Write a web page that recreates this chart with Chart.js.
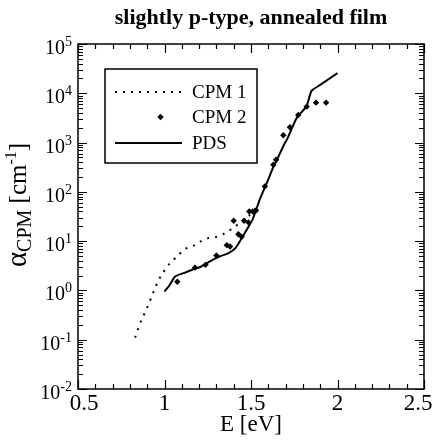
<!DOCTYPE html>
<html><head><meta charset="utf-8">
<script src="https://cdn.jsdelivr.net/npm/chart.js@4"></script>
<style>html,body{margin:0;padding:0;background:#fff}canvas{display:block}</style>
</head><body>
<canvas id="c" width="440" height="442"></canvas>
<script>
const titleText = "slightly p-type, annealed film";
const xTicks = [0.5, 1, 1.5, 2, 2.5];
const xTickLabels = ["0.5", "1", "1.5", "2", "2.5"];
const yExponents = [-2, -1, 0, 1, 2, 3, 4, 5];
const yExpLabels = ["-2", "-1", "0", "1", "2", "3", "4", "5"];

const cpm1E = [0.83, 0.868, 0.887, 0.906, 0.926, 0.945, 0.964, 0.99, 1.028, 1.074, 1.118, 1.163, 1.205, 1.253, 1.302, 1.35, 1.394, 1.446, 1.49, 1.53];
const cpm1A = [0.11, 0.26, 0.355, 0.51, 0.75, 1.1, 1.58, 2.24, 3.47, 4.9, 6.9, 7.9, 9.8, 11.5, 12.3, 14.5, 18.2, 25, 33, 48];

const cpm2E = [1.074, 1.176, 1.237, 1.30, 1.36, 1.379, 1.40, 1.427, 1.446, 1.46, 1.485, 1.49, 1.51, 1.529, 1.58, 1.629, 1.645, 1.687, 1.725, 1.773, 1.822, 1.876, 1.934];
const cpm2A = [1.5, 2.9, 3.3, 5.1, 8.3, 7.8, 26, 13.8, 12.3, 26, 24, 40, 40, 42, 129, 355, 447, 1410, 2040, 3630, 5370, 6460, 6460];

const pdsE = [1.00, 1.03, 1.06, 1.11, 1.16, 1.21, 1.26, 1.32, 1.37, 1.41, 1.44, 1.475, 1.51, 1.55, 1.59, 1.63, 1.65, 1.69, 1.71, 1.745, 1.77, 1.82, 1.85, 1.90, 2.00];
const pdsA = [0.95, 1.29, 1.9, 2.24, 2.63, 3.02, 3.85, 4.9, 5.7, 7.2, 10.5, 17, 28, 69, 148, 324, 447, 891, 1200, 2290, 3390, 5370, 11200, 14800, 25700];

const zip = (xs, ys) => xs.map((x, i) => ({x: x, y: ys[i]}));
const SERIF = '"Liberation Serif", "DejaVu Serif", serif';

const decor = {
  id: 'decor',
  afterDraw(chart) {
    const ctx = chart.ctx;
    const ca = chart.chartArea;
    const xs = chart.scales.x, ys = chart.scales.y;
    ctx.save();
    ctx.strokeStyle = '#000';
    ctx.fillStyle = '#000';
    // frame
    ctx.lineWidth = 1.5;
    ctx.strokeRect(ca.left, ca.top, ca.right - ca.left, ca.bottom - ca.top);
    // x ticks
    ctx.lineWidth = 1.2;
    for (let k = 5; k <= 25; k++) {
      const v = k / 10;
      const px = Math.round(xs.getPixelForValue(v)) + 0.5;
      const len = (k % 5 === 0) ? 9 : 5;
      ctx.beginPath();
      ctx.moveTo(px, ca.bottom); ctx.lineTo(px, ca.bottom - len);
      ctx.moveTo(px, ca.top); ctx.lineTo(px, ca.top + len);
      ctx.stroke();
    }
    // y ticks
    for (let e = -2; e <= 5; e++) {
      for (let m = 1; m <= 9; m++) {
        const v = m * Math.pow(10, e);
        const py = Math.round(ys.getPixelForValue(v)) + 0.5;
        const len = (m === 1) ? 9 : 5;
        ctx.beginPath();
        ctx.moveTo(ca.left, py); ctx.lineTo(ca.left + len, py);
        ctx.moveTo(ca.right, py); ctx.lineTo(ca.right - len, py);
        ctx.stroke();
        if (e === 5) break;
      }
    }
    // x tick labels
    ctx.font = '23px ' + SERIF;
    ctx.textAlign = 'center';
    ctx.textBaseline = 'top';
    xTicks.forEach((v, i) => {
      let px = xs.getPixelForValue(v);
      if (i === 0) px += 6;
      if (i === xTicks.length - 1) px -= 6;
      ctx.fillText(xTickLabels[i], px, ca.bottom + 3);
    });
    // y tick labels
    yExponents.forEach((e, i) => {
      const py = ys.getPixelForValue(Math.pow(10, e));
      ctx.font = '20px ' + SERIF;
      const w10 = ctx.measureText('10').width;
      ctx.font = '14px ' + SERIF;
      const wE = ctx.measureText(yExpLabels[i]).width;
      const x0 = 72 - w10 - wE;
      ctx.textAlign = 'left';
      ctx.textBaseline = 'alphabetic';
      ctx.font = '20px ' + SERIF;
      ctx.fillText('10', x0, py + 10);
      ctx.font = '14px ' + SERIF;
      ctx.fillText(yExpLabels[i], x0 + w10, py + 2);
    });
    // title
    ctx.font = 'bold 22px ' + SERIF;
    ctx.textAlign = 'center';
    ctx.textBaseline = 'middle';
    ctx.fillText(titleText, (ca.left + ca.right) / 2, 18);
    // x title
    ctx.font = '23px ' + SERIF;
    ctx.fillText('E [eV]', (ca.left + ca.right) / 2, 425);
    // y title rotated
    ctx.save();
    ctx.translate(26, 205);
    ctx.rotate(-Math.PI / 2);
    const parts = [
      {t: 'α', f: '29px ' + SERIF, dy: 0},
      {t: 'CPM', f: '20px ' + SERIF, dy: 5},
      {t: ' [cm', f: '25px ' + SERIF, dy: 0},
      {t: '-1', f: '16px ' + SERIF, dy: -10},
      {t: ']', f: '25px ' + SERIF, dy: 0}
    ];
    let tw = 0;
    parts.forEach(p => { ctx.font = p.f; p.w = ctx.measureText(p.t).width; tw += p.w; });
    let cx = -tw / 2;
    ctx.textAlign = 'left';
    ctx.textBaseline = 'alphabetic';
    parts.forEach(p => { ctx.font = p.f; ctx.fillText(p.t, cx, 0 + p.dy); cx += p.w; });
    ctx.restore();
    // legend box
    const lx = ca.left + 27, ly = ca.top + 25, lw = 152, lh = 94;
    ctx.lineWidth = 1.5;
    ctx.strokeRect(lx, ly, lw, lh);
    const rows = [ly + 23, ly + 48, ly + 74];
    const ls = lx + 10, le = lx + 77, tx = lx + 87;
    ctx.save();
    ctx.lineWidth = 2;
    ctx.setLineDash([2, 6]);
    ctx.beginPath(); ctx.moveTo(ls, rows[0]); ctx.lineTo(le, rows[0]); ctx.stroke();
    ctx.restore();
    const dx = (ls + le) / 2 + 12, dr = 3.2;
    ctx.beginPath();
    ctx.moveTo(dx, rows[1] - dr); ctx.lineTo(dx + dr, rows[1]); ctx.lineTo(dx, rows[1] + dr); ctx.lineTo(dx - dr, rows[1]);
    ctx.closePath(); ctx.fill();
    ctx.lineWidth = 2;
    ctx.beginPath(); ctx.moveTo(ls, rows[2]); ctx.lineTo(le, rows[2]); ctx.stroke();
    ctx.font = '19px ' + SERIF;
    ctx.textAlign = 'left';
    ctx.textBaseline = 'middle';
    ctx.fillText('CPM 1', tx, rows[0] + 1);
    ctx.fillText('CPM 2', tx, rows[1] + 1);
    ctx.fillText('PDS', tx, rows[2] + 1);
    ctx.restore();
  }
};

new Chart(document.getElementById('c'), {
  type: 'scatter',
  data: {
    datasets: [
      {label: 'CPM 1', data: zip(cpm1E, cpm1A), showLine: true, borderColor: '#000', borderWidth: 2,
       borderDash: [2, 6], pointRadius: 0, tension: 0.3, fill: false},
      {label: 'CPM 2', data: zip(cpm2E, cpm2A), showLine: false, pointStyle: 'rectRot', pointRadius: 3.2,
       backgroundColor: '#000', borderColor: '#000', borderWidth: 0},
      {label: 'PDS', data: zip(pdsE, pdsA), showLine: true, borderColor: '#000', borderWidth: 2,
       pointRadius: 0, tension: 0.2, fill: false}
    ]
  },
  options: {
    responsive: false,
    animation: false,
    devicePixelRatio: 1,
    layout: {padding: {left: 0, right: 16, top: 44, bottom: 0}},
    plugins: {legend: {display: false}, title: {display: false}, tooltip: {enabled: false}},
    scales: {
      x: {type: 'linear', min: 0.5, max: 2.5,
          grid: {display: false}, border: {display: false},
          ticks: {display: false},
          afterFit: s => { s.height = 53; }},
      y: {type: 'logarithmic', min: 0.01, max: 100000,
          grid: {display: false}, border: {display: false},
          ticks: {display: false},
          afterFit: s => { s.width = 78; }}
    }
  },
  plugins: [decor]
});
</script>
</body></html>
